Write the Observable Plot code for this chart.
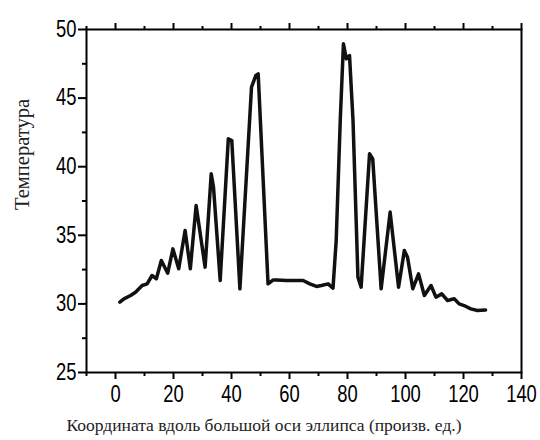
<!DOCTYPE html>
<html>
<head>
<meta charset="utf-8">
<script src="https://cdn.jsdelivr.net/npm/d3@7"></script>
<script src="https://cdn.jsdelivr.net/npm/@observablehq/plot@0.6"></script>
<style>
  html, body { margin: 0; padding: 0; background: #fff; }
  #chart svg { display: block; }
</style>
</head>
<body>
<div id="chart"></div>
<script>
// Coordinate along the major axis of the ellipse (arb. units)
const xs = [1.5, 2.9, 5.2, 6.9, 9.2, 10.9, 12.6, 14.1, 15.8, 18.0, 19.8, 21.8, 24.0, 25.8, 27.8, 30.9,
  33.0, 33.8, 36.1, 38.9, 40.1, 42.9, 46.9, 48.4, 49.2, 52.6, 54.4,
  55.5, 59.0, 64.7, 67.0, 69.3, 71.0, 73.3, 75.0, 76.1, 77.5, 78.6, 79.6, 80.7, 81.9, 83.6, 84.7,
  87.6, 88.7, 91.6, 94.7, 97.6, 99.6, 100.7, 102.5, 104.5, 106.5, 108.8, 110.5, 112.5, 114.5,
  116.8, 118.5, 120.2, 122.5, 124.8, 127.6];
// Temperature
const ys = [30.13, 30.37, 30.61, 30.85, 31.34, 31.46, 32.07, 31.83, 33.16, 32.24, 34.01, 32.56, 35.35, 32.56, 37.17, 32.68,
  39.48, 38.5, 31.71, 42.03, 41.91, 31.1, 45.8, 46.65, 46.77, 31.46, 31.75,
  31.75, 31.71, 31.71, 31.46, 31.27, 31.34, 31.46, 31.15, 34.62, 43.37, 48.96, 47.86, 48.1, 43.37, 31.95, 31.22,
  40.94, 40.57, 31.1, 36.69, 31.22, 33.89, 33.4, 31.1, 32.19, 30.61, 31.34, 30.49, 30.73, 30.25,
  30.37, 30.0, 29.88, 29.64, 29.52, 29.56];

const xMajor = [0, 20, 40, 60, 80, 100, 120, 140];
const xMinor = [-10, 10, 30, 50, 70, 90, 110, 130];
const yMajor = [25, 30, 35, 40, 45, 50];
const yMinor = [27.5, 32.5, 37.5, 42.5, 47.5];
const xTitle = "Координата вдоль большой оси эллипса (произв. ед.)";
const yTitle = "Температура";

const data = xs.map((x, i) => ({x, y: ys[i]}));

const sans = "'Liberation Sans', Arial, sans-serif";
const serif = "'Liberation Serif', 'Times New Roman', serif";

const chart = Plot.plot({
  width: 540,
  height: 440,
  marginLeft: 86,
  marginRight: 19,
  marginTop: 29,
  marginBottom: 68,
  style: {background: "#fff", color: "#000", fontFamily: sans},
  x: {domain: [-10, 140]},
  y: {domain: [25, 50]},
  marks: [
    Plot.axisX({ticks: xMajor, tickSize: 7, tickPadding: 6, strokeWidth: 2, fontSize: 23, fontFamily: sans, label: null, anchor: "bottom"}),
    Plot.axisX({ticks: xMinor, tickSize: 4, strokeWidth: 2, text: null, label: null, anchor: "bottom"}),
    Plot.axisX({ticks: xMajor, tickSize: 7, strokeWidth: 2, text: null, label: null, anchor: "top"}),
    Plot.axisX({ticks: xMinor, tickSize: 4, strokeWidth: 2, text: null, label: null, anchor: "top"}),
    Plot.axisY({ticks: yMajor, tickSize: 8, tickPadding: 2, strokeWidth: 2, fontSize: 23, fontFamily: sans, label: null, anchor: "left"}),
    Plot.axisY({ticks: yMinor, tickSize: 4, strokeWidth: 2, text: null, label: null, anchor: "left"}),
    Plot.frame({stroke: "#000", strokeWidth: 2}),
    Plot.line(data, {x: "x", y: "y", stroke: "#111", strokeWidth: 3.5, strokeLinejoin: "round", strokeLinecap: "round"}),
    Plot.text([yTitle], {frameAnchor: "left", dx: -64, dy: 9, rotate: -90, fontSize: 20.5, fontFamily: serif, fill: "#222"}),
    Plot.text([xTitle], {frameAnchor: "bottom", dy: 58, dx: -40, fontSize: 17.5, fontFamily: serif, fill: "#222"})
  ]
});
document.getElementById("chart").append(chart);

// Condense the tick numerals horizontally, like the narrow face of the original
d3.select(chart)
  .selectAll('g[aria-label="x-axis tick label"] text, g[aria-label="y-axis tick label"] text')
  .each(function () {
    const t = this.getAttribute("transform") || "";
    this.setAttribute("transform", (t + " scale(0.8,1)").trim());
  });
</script>
</body>
</html>
